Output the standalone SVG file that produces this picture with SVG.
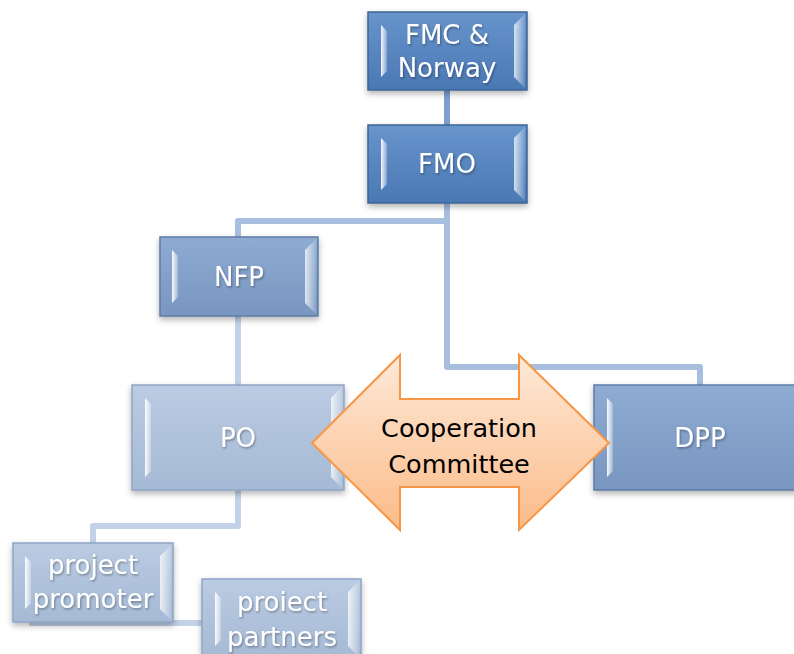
<svg xmlns="http://www.w3.org/2000/svg" width="794" height="654" viewBox="0 0 794 654">
<defs>
<linearGradient id="gDark" x1="0" y1="0" x2="0" y2="1"><stop offset="0" stop-color="#6894cc"/><stop offset="1" stop-color="#4a78b4"/></linearGradient>
<linearGradient id="gMid" x1="0" y1="0" x2="0" y2="1"><stop offset="0" stop-color="#8eabd2"/><stop offset="1" stop-color="#7896c0"/></linearGradient>
<linearGradient id="gLight" x1="0" y1="0" x2="0" y2="1"><stop offset="0" stop-color="#bacbe2"/><stop offset="1" stop-color="#a6bad5"/></linearGradient>
<linearGradient id="gBevL" x1="0" y1="0" x2="1" y2="0"><stop offset="0" stop-color="#ffffff" stop-opacity="0.95"/><stop offset="1" stop-color="#ffffff" stop-opacity="0.25"/></linearGradient>
<linearGradient id="gBevR" x1="0" y1="0" x2="1" y2="0"><stop offset="0" stop-color="#ffffff" stop-opacity="0.75"/><stop offset="1" stop-color="#ffffff" stop-opacity="0.1"/></linearGradient>
<linearGradient id="gArrow" x1="0" y1="0" x2="0" y2="1"><stop offset="0" stop-color="#fee9d8"/><stop offset="1" stop-color="#fbbb88"/></linearGradient>
<filter id="shadow" x="-10%" y="-10%" width="120%" height="130%"><feDropShadow dx="0" dy="3" stdDeviation="3" flood-color="#000" flood-opacity="0.3"/></filter>
<filter id="tshadow" x="-10%" y="-20%" width="120%" height="140%"><feDropShadow dx="1" dy="1.5" stdDeviation="1" flood-color="#000" flood-opacity="0.35"/></filter>
</defs>
<style>
.dark{fill:url(#gDark);stroke:#3d6595;stroke-width:1.5}
.mid{fill:url(#gMid);stroke:#5e7ca5;stroke-width:1.5}
.light{fill:url(#gLight);stroke:#8ea5c6;stroke-width:1.5}
.bl{fill:url(#gBevL)}
.br{fill:url(#gBevR)}
.t{font-family:"DejaVu Sans","Verdana",sans-serif;font-size:26px;fill:#ffffff;text-anchor:middle;filter:url(#tshadow)}
.c{fill:none;stroke-width:6;stroke-linejoin:round;stroke-linecap:butt}
.c1{stroke:#a7bedf}
.c2{stroke:#c3d2e8}
.ct{font-family:"DejaVu Sans","Verdana",sans-serif;font-size:25.5px;fill:#000000;text-anchor:middle}
</style>
<g id="connectors">
<path class="c" d="M447,90 V125" stroke="#7e9fcf"/>
<path class="c c1" d="M447,203 V221 H238 V237"/>
<path class="c c1" d="M447,221 V367 H700 V385"/>
<path class="c c2" d="M238,316 V385"/>
<path class="c c2" d="M238,490 V526 H93 V543"/>
<path class="c c2" d="M29,623 H202"/>
</g>
<g id="fmc" filter="url(#shadow)">
<rect class="dark" x="368" y="12" width="159" height="78"/>
<polygon class="bl" points="381,25 387,31 387,71 381,77"/>
<polygon class="br" points="514,25 525,14 525,88 514,77"/>
<text class="t" x="447" y="44">FMC &amp;</text>
<text class="t" x="447" y="77">Norway</text>
</g>
<g id="fmo" filter="url(#shadow)">
<rect class="dark" x="368" y="125" width="159" height="78"/>
<polygon class="bl" points="381,138 387,144 387,184 381,190"/>
<polygon class="br" points="514,138 525,127 525,201 514,190"/>
<text class="t" x="447" y="173">FMO</text>
</g>
<g id="nfp" filter="url(#shadow)">
<rect class="mid" x="160" y="237" width="158" height="79"/>
<polygon class="bl" points="172,250 178,256 178,297 172,303"/>
<polygon class="br" points="305,250 316,239 316,314 305,303"/>
<text class="t" x="239" y="286">NFP</text>
</g>
<g id="po" filter="url(#shadow)">
<rect class="light" x="132" y="385" width="212" height="105"/>
<polygon class="bl" points="145,398 151,404 151,471 145,477"/>
<polygon class="br" points="331,398 342,387 342,488 331,477"/>
<text class="t" x="238" y="447">PO</text>
</g>
<g id="dpp" filter="url(#shadow)">
<rect class="mid" x="594" y="385" width="212" height="105"/>
<polygon class="bl" points="607,398 613,404 613,471 607,477"/>
<text class="t" x="700" y="447">DPP</text>
</g>
<g id="promoter" filter="url(#shadow)">
<rect class="light" x="13" y="543" width="160" height="79"/>
<polygon class="bl" points="25,556 31,562 31,603 25,609"/>
<polygon class="br" points="160,556 171,545 171,620 160,609"/>
<text class="t" x="93" y="574">project</text>
<text class="t" x="93" y="608">promoter</text>
</g>
<g id="partners" filter="url(#shadow)">
<rect class="light" x="202" y="579" width="159" height="80"/>
<polygon class="bl" points="215,592 221,598 221,640 215,646"/>
<polygon class="br" points="348,592 359,581 359,657 348,646"/>
<text class="t" x="282" y="611">proiect</text>
<text class="t" x="282" y="646">partners</text>
</g>
<g id="cooperation">
<polygon points="312,443 400,355 400,399 519,399 519,355 609,443 519,530 519,487 400,487 400,530" fill="url(#gArrow)" stroke="#f79646" stroke-width="2" stroke-linejoin="miter"/>
<text class="ct" x="459" y="437">Cooperation</text>
<text class="ct" x="459" y="473">Committee</text>
</g>
</svg>
